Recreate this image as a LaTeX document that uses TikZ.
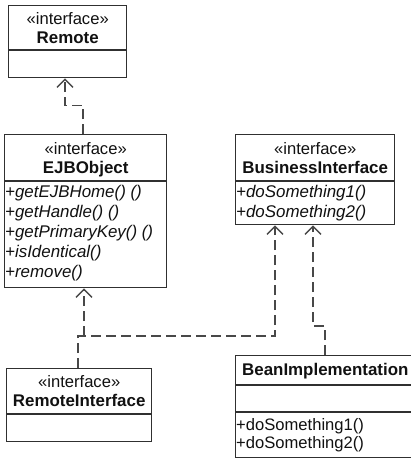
\documentclass[tikz,border=0pt]{standalone}
\usepackage{fontspec}
\setmainfont{Liberation Sans}
\usetikzlibrary{arrows.meta}
\definecolor{boxc}{HTML}{303030}
\definecolor{linec}{HTML}{484848}
\definecolor{txtc}{HTML}{111111}
\begin{document}
\begin{tikzpicture}[x=1pt,y=-1pt,
  box/.style={draw=boxc, line width=1.4pt, fill=white, inner sep=0pt, anchor=north west},
  sep/.style={draw=boxc, line width=1.2pt},
  lbl/.style={inner sep=0pt, anchor=base, text=txtc, font=\fontsize{16.6}{20}\selectfont},
  ttl/.style={lbl, font=\fontsize{16.9}{20}\selectfont\bfseries},
  meth/.style={inner sep=0pt, anchor=base west, text=txtc, font=\fontsize{16.9}{20}\selectfont\itshape},
  rmeth/.style={meth, font=\fontsize{16.6}{20}\selectfont},
  dep/.style={draw=linec, line width=1.6pt, dash pattern=on 10pt off 5pt,
    -{Straight Barb[length=8pt,width=16pt,line width=1.4pt]}}
]
\useasboundingbox (0,0) rectangle (411,459);
\clip (0,0) rectangle (411,459);

% Remote
\node[box, minimum width=118pt, minimum height=72pt] (remote) at (8,5) {};
\draw[sep] ([yshift=-45pt]remote.north west) -- ([yshift=-45pt]remote.north east);
\node[lbl] (remote-st) at ([yshift=-19pt]remote.north) {«interface»};
\node[ttl] (remote-nm) at ([yshift=-38pt]remote.north) {Remote};

% EJBObject
\node[box, minimum width=162pt, minimum height=153pt] (ejb) at (4,134) {};
\draw[sep] ([yshift=-47pt]ejb.north west) -- ([yshift=-47pt]ejb.north east);
\node[lbl] (ejb-st) at ([yshift=-20pt]ejb.north) {«interface»};
\node[ttl] (ejb-nm) at ([yshift=-39pt]ejb.north) {EJBObject};
\node[meth] (ejb-m1) at ([xshift=1pt,yshift=-63pt]ejb.north west) {+getEJBHome() ()};
\node[meth] (ejb-m2) at ([xshift=1pt,yshift=-83pt]ejb.north west) {+getHandle() ()};
\node[meth] (ejb-m3) at ([xshift=1pt,yshift=-103pt]ejb.north west) {+getPrimaryKey() ()};
\node[meth] (ejb-m4) at ([xshift=1pt,yshift=-123pt]ejb.north west) {+isIdentical()};
\node[meth] (ejb-m5) at ([xshift=1pt,yshift=-143pt]ejb.north west) {+remove()};

% BusinessInterface
\node[box, minimum width=159pt, minimum height=90pt] (bi) at (235,134) {};
\draw[sep] ([yshift=-47pt]bi.north west) -- ([yshift=-47pt]bi.north east);
\node[lbl] (bi-st) at ([yshift=-20pt]bi.north) {«interface»};
\node[ttl] (bi-nm) at ([yshift=-39pt]bi.north) {BusinessInterface};
\node[meth] (bi-m1) at ([xshift=1pt,yshift=-63pt]bi.north west) {+doSomething1()};
\node[meth] (bi-m2) at ([xshift=1pt,yshift=-83pt]bi.north west) {+doSomething2()};

% RemoteInterface
\node[box, minimum width=145pt, minimum height=73pt] (ri) at (6,368) {};
\draw[sep] ([yshift=-46pt]ri.north west) -- ([yshift=-46pt]ri.north east);
\node[lbl] (ri-st) at ([yshift=-19pt]ri.north) {«interface»};
\node[ttl] (ri-nm) at ([yshift=-38pt]ri.north) {RemoteInterface};

% BeanImplementation
\node[box, minimum width=190pt, minimum height=102pt] (bean) at (235,355) {};
\draw[sep] ([yshift=-30pt]bean.north west) -- ([yshift=-30pt]bean.north east);
\draw[sep] ([yshift=-57pt]bean.north west) -- ([yshift=-57pt]bean.north east);
\node[ttl, anchor=base west] (bean-nm) at ([xshift=7pt,yshift=-20pt]bean.north west) {BeanImplementation};
\node[rmeth] (bean-m1) at ([xshift=1pt,yshift=-75pt]bean.north west) {+doSomething1()};
\node[rmeth] (bean-m2) at ([xshift=1pt,yshift=-93pt]bean.north west) {+doSomething2()};

% connectors
\draw[dep] ([xshift=79pt]ejb.north west) |- ([xshift=57pt,yshift=-27pt]remote.south west) -- ([xshift=57pt]remote.south west);
\coordinate (jn) at (84,336);
\draw[dep] ([xshift=72pt]ri.north west) -- ++(0,-32) -| ([xshift=40pt]bi.south west);
\draw[dep] (jn) -- ([xshift=80pt]ejb.south west);
\draw[dep] ([xshift=90pt]bean.north west) -- ++(0,-29) -| ([xshift=78pt]bi.south west);
\end{tikzpicture}
\end{document}
